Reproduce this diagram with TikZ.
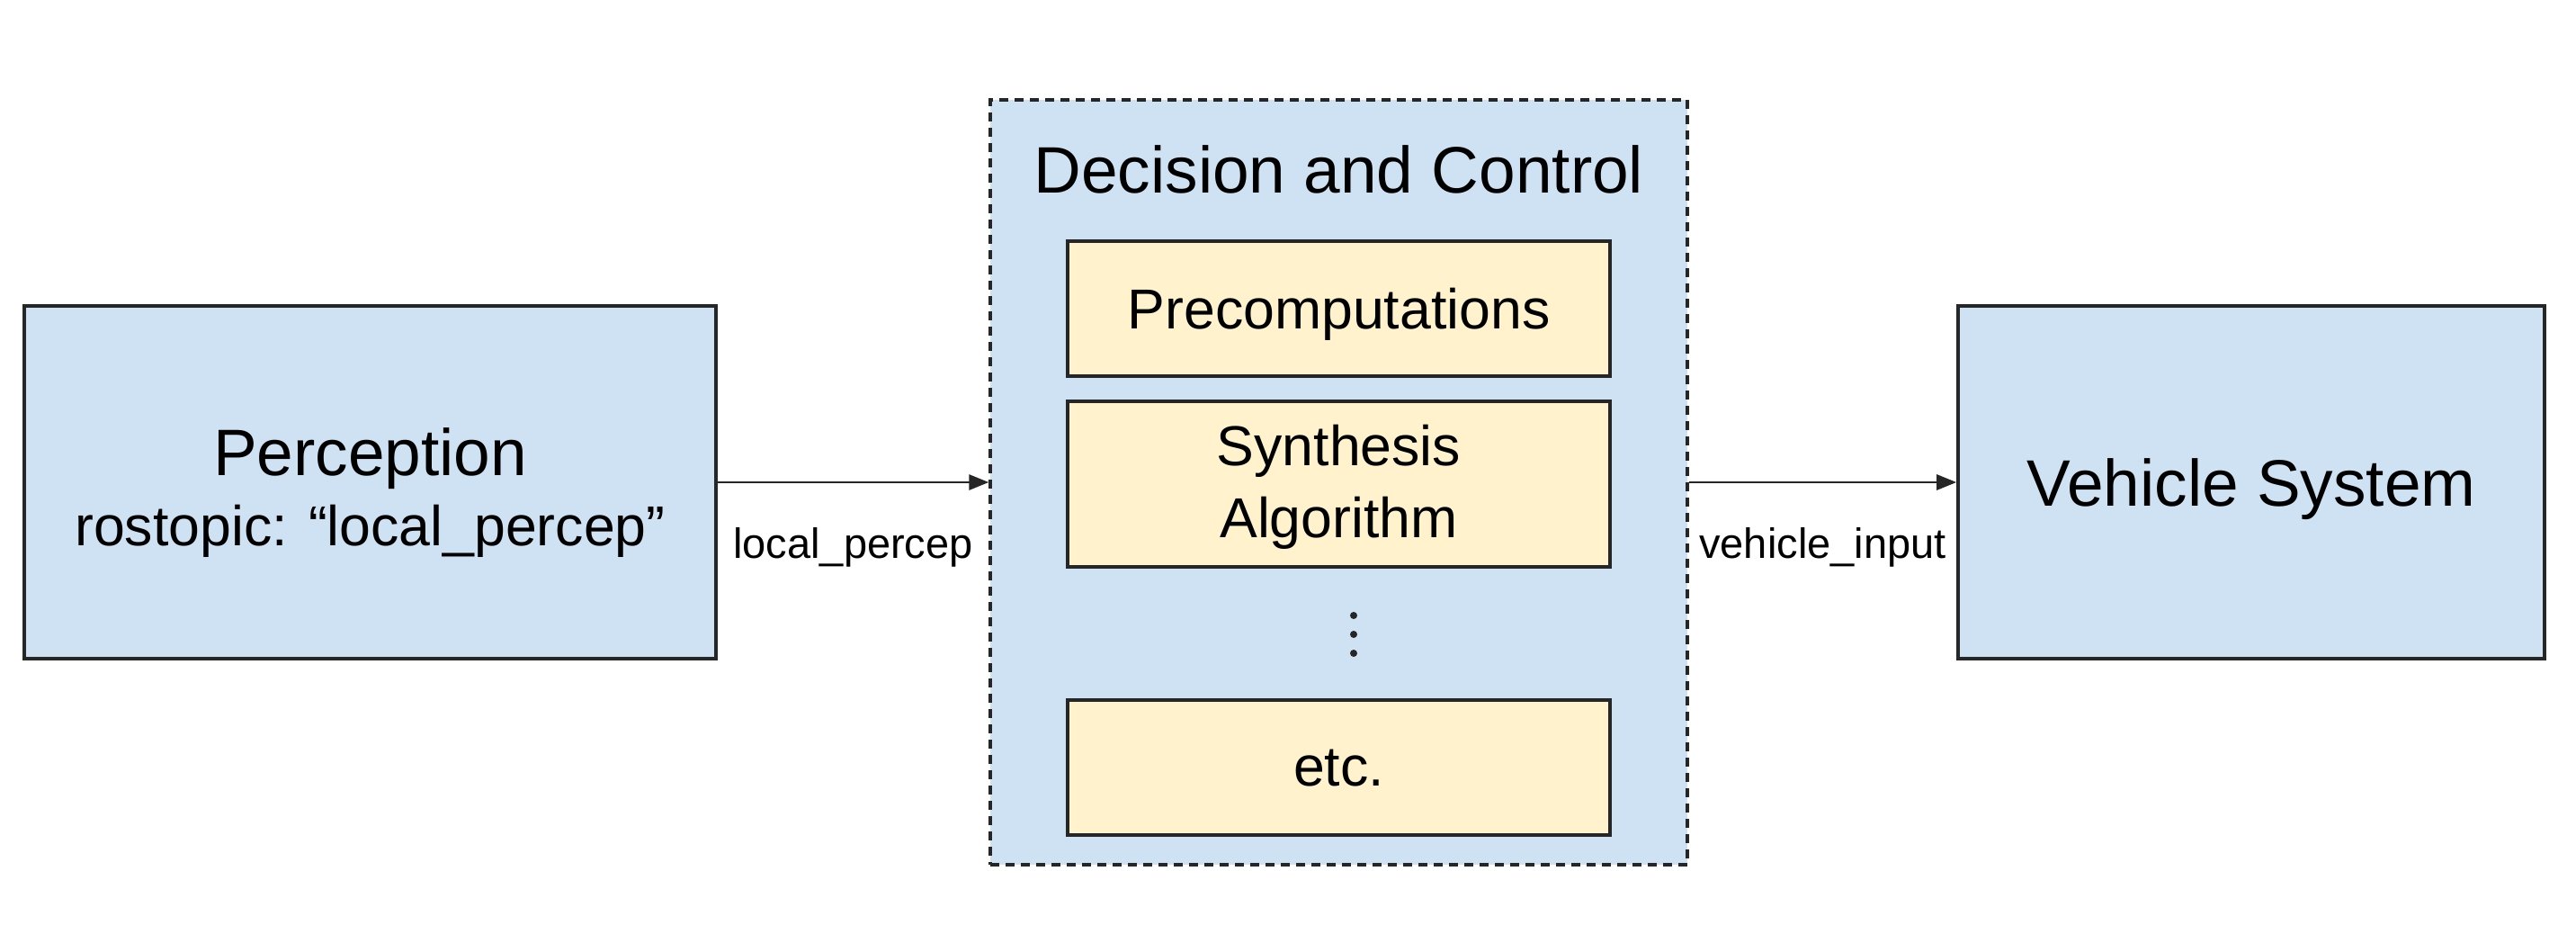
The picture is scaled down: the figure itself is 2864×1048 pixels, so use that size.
\documentclass[tikz,border=0pt]{standalone}
\usepackage{fontspec}
\setmainfont{Liberation Sans}
\usetikzlibrary{arrows.meta}
\definecolor{boxblue}{HTML}{CFE2F3}
\definecolor{boxyellow}{HTML}{FFF2CC}
\definecolor{edgecol}{HTML}{262626}
\begin{document}
\begin{tikzpicture}[x=0.5pt,y=-0.5pt,
  bluebox/.style={draw=edgecol, fill=boxblue, line width=1.8pt, inner sep=0pt},
  groupbox/.style={draw=edgecol, fill=boxblue, line width=1.7pt, dash pattern=on 5pt off 3.5pt, inner sep=0pt},
  yellowbox/.style={draw=edgecol, fill=boxyellow, line width=1.7pt, inner sep=0pt, minimum width=301.5pt},
  bigtxt/.style={font=\fontsize{36.5}{43}\selectfont, inner sep=0pt, anchor=base},
  midtxt/.style={font=\fontsize{31.3}{40}\selectfont, inner sep=0pt, anchor=base},
  smalltxt/.style={font=\fontsize{23.5}{28}\selectfont, inner sep=0pt, anchor=base},
  conn/.style={draw=edgecol, line width=1.4pt, -{Triangle[length=11pt,width=8.5pt]}},
  dotmark/.style={fill=edgecol, circle, inner sep=0pt, minimum size=4pt}
]
\useasboundingbox (0,0) rectangle (2864,1048);

% Perception
\node[bluebox, minimum width=384.5pt, minimum height=196pt] (perc) at (411.5,536) {};
\node[bigtxt] (perct1) at (411.5,528) {Perception};
\node[midtxt] (perct2) at (411.5,606) {rostopic: “local\_percep”};

% Decision and Control group
\node[groupbox, minimum width=387.5pt, minimum height=425pt] (dec) at (1488.5,536) {};
\node[bigtxt] (dectitle) at (1488.5,215) {Decision and Control};

\node[yellowbox, minimum height=75pt] (pre) at (1488.5,343) {};
\node[midtxt] (pret) at (1488.5,365) {Precomputations};

\node[yellowbox, minimum height=92pt] (syn) at (1488.5,538) {};
\node[midtxt] (synt1) at (1488.5,517) {Synthesis};
\node[midtxt] (synt2) at (1488.5,597) {Algorithm};

\node[dotmark] (d1) at (1505,684) {};
\node[dotmark] (d2) at (1505,705) {};
\node[dotmark] (d3) at (1505,726) {};

\node[yellowbox, minimum height=75pt] (etc) at (1488.5,853) {};
\node[midtxt] (etct) at (1488.5,873) {etc.};

% Vehicle System
\node[bluebox, minimum width=326pt, minimum height=196pt] (veh) at (2503,536) {};
\node[bigtxt] (veht) at (2503,562) {Vehicle System};

% connectors
\draw[conn] (perc.east) -- (dec.west);
\draw[conn] (dec.east) -- (veh.west);
\node[smalltxt] (lab1) at (948.5,620) {local\_percep};
\node[smalltxt] (lab2) at (2026.5,620) {vehicle\_input};
\end{tikzpicture}
\end{document}
